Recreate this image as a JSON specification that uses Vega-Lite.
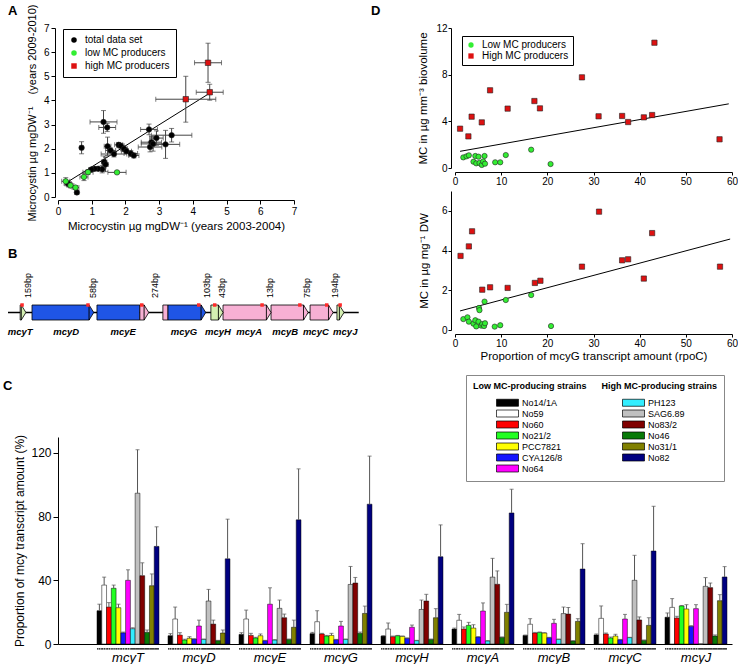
{
  "$schema": "https://vega.github.io/schema/vega-lite/v6.json",
  "background": "white",
  "padding": {"left": 3, "top": 4, "right": 0, "bottom": 0},
  "config": {
    "font": "Liberation Sans",
    "view": {"stroke": null},
    "axis": {"domainColor": "black", "tickColor": "black", "labelColor": "black", "titleColor": "black", "titleFontWeight": "normal", "grid": false, "labelFlush": false, "labelOverlap": false, "labelFont": "Liberation Sans", "titleFont": "Liberation Sans"},
    "title": {"fontSize": 13, "fontWeight": "bold", "anchor": "start", "frame": "group", "font": "Liberation Sans", "color": "black"},
    "legend": {"labelFont": "Liberation Sans", "titleFont": "Liberation Sans", "labelColor": "black", "titleColor": "black"}
  },
  "datasets": {
    "adata": [
      {"x":0.56,"y":0.19,"xlo":0.51,"xhi":0.61,"ylo":0.11,"yhi":0.27,"grp":"total data set"},
      {"x":0.3,"y":0.55,"xlo":0.2,"xhi":0.4,"ylo":0.45,"yhi":0.65,"grp":"total data set"},
      {"x":0.7,"y":2.04,"xlo":0.65,"xhi":0.75,"ylo":1.79,"yhi":2.29,"grp":"total data set"},
      {"x":1.35,"y":3.11,"xlo":0.95,"xhi":1.75,"ylo":2.64,"yhi":3.58,"grp":"total data set"},
      {"x":1.46,"y":2.88,"xlo":1.21,"xhi":1.71,"ylo":2.71,"yhi":3.05,"grp":"total data set"},
      {"x":1.47,"y":2.1,"xlo":1.37,"xhi":1.57,"ylo":1.72,"yhi":2.48,"grp":"total data set"},
      {"x":1.56,"y":1.93,"xlo":1.41,"xhi":1.71,"ylo":1.83,"yhi":2.03,"grp":"total data set"},
      {"x":1.66,"y":1.78,"xlo":1.28,"xhi":2.04,"ylo":1.66,"yhi":1.9,"grp":"total data set"},
      {"x":1.8,"y":2.16,"xlo":1.68,"xhi":1.92,"ylo":2.06,"yhi":2.26,"grp":"total data set"},
      {"x":1.86,"y":2.12,"xlo":1.76,"xhi":1.96,"ylo":2.02,"yhi":2.22,"grp":"total data set"},
      {"x":1.96,"y":2.0,"xlo":1.86,"xhi":2.06,"ylo":1.88,"yhi":2.12,"grp":"total data set"},
      {"x":2.03,"y":1.9,"xlo":1.88,"xhi":2.18,"ylo":1.8,"yhi":2.0,"grp":"total data set"},
      {"x":2.16,"y":1.8,"xlo":1.96,"xhi":2.36,"ylo":1.68,"yhi":1.92,"grp":"total data set"},
      {"x":2.25,"y":1.72,"xlo":2.1,"xhi":2.4,"ylo":1.62,"yhi":1.82,"grp":"total data set"},
      {"x":1.37,"y":1.45,"xlo":1.29,"xhi":1.45,"ylo":1.2,"yhi":1.7,"grp":"total data set"},
      {"x":1.41,"y":1.35,"xlo":1.33,"xhi":1.49,"ylo":1.05,"yhi":1.65,"grp":"total data set"},
      {"x":1.31,"y":1.15,"xlo":1.21,"xhi":1.41,"ylo":1.0,"yhi":1.3,"grp":"total data set"},
      {"x":1.19,"y":1.17,"xlo":1.09,"xhi":1.29,"ylo":1.12,"yhi":1.22,"grp":"total data set"},
      {"x":1.09,"y":1.17,"xlo":0.99,"xhi":1.19,"ylo":1.12,"yhi":1.22,"grp":"total data set"},
      {"x":0.99,"y":1.14,"xlo":0.91,"xhi":1.07,"ylo":1.09,"yhi":1.19,"grp":"total data set"},
      {"x":2.7,"y":2.8,"xlo":2.45,"xhi":2.95,"ylo":2.58,"yhi":3.02,"grp":"total data set"},
      {"x":2.73,"y":2.07,"xlo":2.38,"xhi":3.08,"ylo":1.87,"yhi":2.27,"grp":"total data set"},
      {"x":2.77,"y":2.27,"xlo":2.47,"xhi":3.07,"ylo":2.02,"yhi":2.52,"grp":"total data set"},
      {"x":2.82,"y":2.2,"xlo":2.47,"xhi":3.17,"ylo":1.9,"yhi":2.5,"grp":"total data set"},
      {"x":2.92,"y":2.44,"xlo":2.72,"xhi":3.12,"ylo":2.14,"yhi":2.74,"grp":"total data set"},
      {"x":3.19,"y":2.18,"xlo":2.77,"xhi":3.61,"ylo":1.6,"yhi":2.76,"grp":"total data set"},
      {"x":3.37,"y":2.56,"xlo":2.77,"xhi":3.97,"ylo":2.28,"yhi":2.84,"grp":"total data set"},
      {"x":0.23,"y":0.65,"xlo":0.11,"xhi":0.35,"ylo":0.5,"yhi":0.8,"grp":"low MC producers"},
      {"x":0.37,"y":0.48,"xlo":0.27,"xhi":0.47,"ylo":0.38,"yhi":0.58,"grp":"low MC producers"},
      {"x":0.52,"y":0.39,"xlo":0.42,"xhi":0.62,"ylo":0.31,"yhi":0.47,"grp":"low MC producers"},
      {"x":0.77,"y":0.83,"xlo":0.65,"xhi":0.89,"ylo":0.68,"yhi":0.98,"grp":"low MC producers"},
      {"x":0.89,"y":1.03,"xlo":0.74,"xhi":1.04,"ylo":0.93,"yhi":1.13,"grp":"low MC producers"},
      {"x":1.75,"y":1.02,"xlo":1.48,"xhi":2.02,"ylo":0.97,"yhi":1.07,"grp":"low MC producers"},
      {"x":3.79,"y":4.05,"xlo":2.9,"xhi":4.68,"ylo":3.1,"yhi":5.0,"grp":"high MC producers"},
      {"x":4.45,"y":5.56,"xlo":4.05,"xhi":4.85,"ylo":4.75,"yhi":6.37,"grp":"high MC producers"},
      {"x":4.5,"y":4.34,"xlo":4.1,"xhi":4.9,"ylo":4.01,"yhi":4.67,"grp":"high MC producers"}
    ],
    "aline": [{"x":0.2,"y":0.55},{"x":4.5,"y":4.3}],
    "bbone": [{"start":0,"end":54.8}],
    "bgenes": [
      {"gene":"mcyT","type":"other","start":1.9,"bend":2.1,"end":2.8,"head":1},
      {"gene":"mcyD","type":"PKS","start":3.75,"bend":12.7,"end":13.4,"head":1},
      {"gene":"mcyE","type":"PKS","start":13.9,"bend":20.6,"end":20.6,"head":0},
      {"gene":"mcyE","type":"NRPS","start":20.6,"bend":21.3,"end":22.0,"head":1},
      {"gene":"mcyG","type":"NRPS","start":24.2,"bend":25.0,"end":25.0,"head":0},
      {"gene":"mcyG","type":"PKS","start":25.0,"bend":30.2,"end":30.9,"head":1},
      {"gene":"mcyH","type":"other","start":31.7,"bend":32.9,"end":33.6,"head":1},
      {"gene":"mcyA","type":"NRPS","start":33.6,"bend":40.4,"end":41.1,"head":1},
      {"gene":"mcyB","type":"NRPS","start":41.1,"bend":46.2,"end":46.9,"head":1},
      {"gene":"mcyC","type":"NRPS","start":47.2,"bend":50.1,"end":50.8,"head":1},
      {"gene":"mcyJ","type":"other","start":51.4,"bend":51.8,"end":52.5,"head":1}
    ],
    "bmark": [{"pos":2.2},{"pos":12.5},{"pos":20.9},{"pos":29.8},{"pos":32.3},{"pos":39.7},{"pos":45.6},{"pos":49.8},{"pos":51.9}],
    "bbp": [
      {"pos":3.1,"label":"159bp"},{"pos":13.3,"label":"58bp"},{"pos":23.0,"label":"274bp"},{"pos":31.1,"label":"103bp"},
      {"pos":33.4,"label":"43bp"},{"pos":40.9,"label":"13bp"},{"pos":46.7,"label":"75bp"},{"pos":51.1,"label":"194bp"}
    ],
    "bname": [
      {"pos":1.9,"gene":"mcyT"},{"pos":9.1,"gene":"mcyD"},{"pos":18.0,"gene":"mcyE"},{"pos":27.5,"gene":"mcyG"},{"pos":32.8,"gene":"mcyH"},
      {"pos":37.7,"gene":"mcyA"},{"pos":43.3,"gene":"mcyB"},{"pos":48.1,"gene":"mcyC"},{"pos":52.7,"gene":"mcyJ"}
    ],
    "d1": [
      {"x":1.8,"y":0.91,"grp":"Low MC producers"},{"x":2.5,"y":1.0,"grp":"Low MC producers"},{"x":3.0,"y":1.09,"grp":"Low MC producers"},
      {"x":4.0,"y":0.54,"grp":"Low MC producers"},{"x":4.4,"y":1.03,"grp":"Low MC producers"},{"x":4.6,"y":0.4,"grp":"Low MC producers"},
      {"x":5.1,"y":0.97,"grp":"Low MC producers"},{"x":5.3,"y":0.43,"grp":"Low MC producers"},{"x":5.8,"y":0.26,"grp":"Low MC producers"},
      {"x":6.1,"y":0.57,"grp":"Low MC producers"},{"x":6.4,"y":1.03,"grp":"Low MC producers"},{"x":6.5,"y":0.37,"grp":"Low MC producers"},
      {"x":8.7,"y":0.49,"grp":"Low MC producers"},{"x":9.8,"y":0.49,"grp":"Low MC producers"},{"x":11.0,"y":1.11,"grp":"Low MC producers"},
      {"x":16.5,"y":1.57,"grp":"Low MC producers"},{"x":20.7,"y":0.34,"grp":"Low MC producers"},
      {"x":1.1,"y":3.37,"grp":"High MC producers"},{"x":2.9,"y":2.71,"grp":"High MC producers"},{"x":3.6,"y":4.4,"grp":"High MC producers"},
      {"x":5.8,"y":3.91,"grp":"High MC producers"},{"x":7.6,"y":6.66,"grp":"High MC producers"},{"x":11.4,"y":5.09,"grp":"High MC producers"},
      {"x":17.2,"y":5.74,"grp":"High MC producers"},{"x":18.4,"y":5.11,"grp":"High MC producers"},{"x":27.5,"y":7.77,"grp":"High MC producers"},
      {"x":31.1,"y":4.43,"grp":"High MC producers"},{"x":36.2,"y":4.46,"grp":"High MC producers"},{"x":37.5,"y":3.94,"grp":"High MC producers"},
      {"x":40.9,"y":4.34,"grp":"High MC producers"},{"x":42.7,"y":4.54,"grp":"High MC producers"},{"x":43.2,"y":10.74,"grp":"High MC producers"},
      {"x":57.3,"y":2.46,"grp":"High MC producers"}
    ],
    "d1line": [{"x":1.1,"y":1.43},{"x":59.3,"y":5.5}],
    "d2": [
      {"x":1.8,"y":0.55,"grp":"Low MC producers"},{"x":2.7,"y":0.64,"grp":"Low MC producers"},{"x":3.0,"y":0.42,"grp":"Low MC producers"},
      {"x":4.0,"y":0.32,"grp":"Low MC producers"},{"x":4.4,"y":0.49,"grp":"Low MC producers"},{"x":4.6,"y":0.18,"grp":"Low MC producers"},
      {"x":5.1,"y":0.42,"grp":"Low MC producers"},{"x":5.2,"y":1.11,"grp":"Low MC producers"},{"x":5.3,"y":1.0,"grp":"Low MC producers"},
      {"x":5.7,"y":0.22,"grp":"Low MC producers"},{"x":5.9,"y":0.3,"grp":"Low MC producers"},{"x":6.3,"y":0.2,"grp":"Low MC producers"},
      {"x":6.4,"y":1.43,"grp":"Low MC producers"},{"x":6.5,"y":0.34,"grp":"Low MC producers"},{"x":8.6,"y":0.17,"grp":"Low MC producers"},
      {"x":9.8,"y":0.24,"grp":"Low MC producers"},{"x":11.0,"y":1.51,"grp":"Low MC producers"},{"x":16.5,"y":1.76,"grp":"Low MC producers"},
      {"x":20.8,"y":0.2,"grp":"Low MC producers"},
      {"x":1.2,"y":3.73,"grp":"High MC producers"},{"x":3.0,"y":4.21,"grp":"High MC producers"},{"x":3.7,"y":4.97,"grp":"High MC producers"},
      {"x":5.9,"y":2.03,"grp":"High MC producers"},{"x":7.6,"y":2.15,"grp":"High MC producers"},{"x":11.4,"y":2.12,"grp":"High MC producers"},
      {"x":17.3,"y":2.37,"grp":"High MC producers"},{"x":18.5,"y":2.48,"grp":"High MC producers"},{"x":27.5,"y":3.19,"grp":"High MC producers"},
      {"x":31.2,"y":5.96,"grp":"High MC producers"},{"x":36.2,"y":3.51,"grp":"High MC producers"},{"x":37.5,"y":3.56,"grp":"High MC producers"},
      {"x":40.9,"y":2.59,"grp":"High MC producers"},{"x":42.7,"y":4.88,"grp":"High MC producers"},{"x":57.4,"y":3.19,"grp":"High MC producers"}
    ],
    "d2line": [{"x":1.1,"y":0.96},{"x":59.6,"y":4.58}],
    "strains": [
      {"s":"No14/1A","grp":"low"},{"s":"No59","grp":"low"},{"s":"No60","grp":"low"},{"s":"No21/2","grp":"low"},{"s":"PCC7821","grp":"low"},
      {"s":"CYA126/8","grp":"low"},{"s":"No64","grp":"low"},{"s":"PH123","grp":"high"},{"s":"SAG6.89","grp":"high"},{"s":"No83/2","grp":"high"},
      {"s":"No46","grp":"high"},{"s":"No31/1","grp":"high"},{"s":"No82","grp":"high"}
    ],
    "cdata": [
      {"g":"mcyT","s":"No14/1A","v":20.9,"e":25},{"g":"mcyT","s":"No59","v":37,"e":42},{"g":"mcyT","s":"No60","v":23.2,"e":26},{"g":"mcyT","s":"No21/2","v":35,"e":37},{"g":"mcyT","s":"PCC7821","v":22.8,"e":25},{"g":"mcyT","s":"CYA126/8","v":7,"e":7.5},{"g":"mcyT","s":"No64","v":40,"e":46.6},{"g":"mcyT","s":"PH123","v":9.6,"e":10.2},{"g":"mcyT","s":"SAG6.89","v":94.7,"e":122},{"g":"mcyT","s":"No83/2","v":42.9,"e":51},{"g":"mcyT","s":"No46","v":7.3,"e":8.8},{"g":"mcyT","s":"No31/1","v":36.6,"e":44},{"g":"mcyT","s":"No82","v":61.3,"e":73.6},
      {"g":"mcyD","s":"No14/1A","v":5.2,"e":6.5},{"g":"mcyD","s":"No59","v":15.7,"e":23.2},{"g":"mcyD","s":"No60","v":5.6,"e":7.1},{"g":"mcyD","s":"No21/2","v":2.5,"e":3},{"g":"mcyD","s":"PCC7821","v":3.6,"e":4.6},{"g":"mcyD","s":"CYA126/8","v":3.1,"e":3.3},{"g":"mcyD","s":"No64","v":11.3,"e":15},{"g":"mcyD","s":"PH123","v":2.9,"e":3.1},{"g":"mcyD","s":"SAG6.89","v":27,"e":34.3},{"g":"mcyD","s":"No83/2","v":12.5,"e":15},{"g":"mcyD","s":"No46","v":2.1,"e":2.3},{"g":"mcyD","s":"No31/1","v":6.9,"e":8.8},{"g":"mcyD","s":"No82","v":53.5,"e":78.4},
      {"g":"mcyE","s":"No14/1A","v":6,"e":7.1},{"g":"mcyE","s":"No59","v":15.7,"e":21.3},{"g":"mcyE","s":"No60","v":5.4,"e":6.7},{"g":"mcyE","s":"No21/2","v":3.8,"e":4.2},{"g":"mcyE","s":"PCC7821","v":5.2,"e":6.3},{"g":"mcyE","s":"CYA126/8","v":2.1,"e":2.3},{"g":"mcyE","s":"No64","v":25,"e":35.3},{"g":"mcyE","s":"PH123","v":2.5,"e":2.7},{"g":"mcyE","s":"SAG6.89","v":22.4,"e":27.6},{"g":"mcyE","s":"No83/2","v":16.5,"e":18.8},{"g":"mcyE","s":"No46","v":2.9,"e":3.1},{"g":"mcyE","s":"No31/1","v":10.5,"e":15},{"g":"mcyE","s":"No82","v":78,"e":110},
      {"g":"mcyG","s":"No14/1A","v":6.5,"e":7.3},{"g":"mcyG","s":"No59","v":14,"e":20.9},{"g":"mcyG","s":"No60","v":6.3,"e":6.7},{"g":"mcyG","s":"No21/2","v":5,"e":5.4},{"g":"mcyG","s":"PCC7821","v":5.4,"e":6.7},{"g":"mcyG","s":"CYA126/8","v":2.7,"e":2.9},{"g":"mcyG","s":"No64","v":11.3,"e":14.2},{"g":"mcyG","s":"PH123","v":2.9,"e":3.1},{"g":"mcyG","s":"SAG6.89","v":37.4,"e":48.7},{"g":"mcyG","s":"No83/2","v":38.3,"e":41.8},{"g":"mcyG","s":"No46","v":6.7,"e":7.5},{"g":"mcyG","s":"No31/1","v":19.2,"e":23.8},{"g":"mcyG","s":"No82","v":87.8,"e":118},
      {"g":"mcyH","s":"No14/1A","v":5,"e":5.2},{"g":"mcyH","s":"No59","v":9.4,"e":13.2},{"g":"mcyH","s":"No60","v":4.6,"e":5},{"g":"mcyH","s":"No21/2","v":5.2,"e":5.4},{"g":"mcyH","s":"PCC7821","v":4.8,"e":5},{"g":"mcyH","s":"CYA126/8","v":3.6,"e":3.8},{"g":"mcyH","s":"No64","v":10.5,"e":11.9},{"g":"mcyH","s":"PH123","v":2.1,"e":2.3},{"g":"mcyH","s":"SAG6.89","v":21.7,"e":27.6},{"g":"mcyH","s":"No83/2","v":27,"e":31.2},{"g":"mcyH","s":"No46","v":2.9,"e":3.1},{"g":"mcyH","s":"No31/1","v":16.5,"e":22.2},{"g":"mcyH","s":"No82","v":54.8,"e":74.8},
      {"g":"mcyA","s":"No14/1A","v":9.4,"e":10},{"g":"mcyA","s":"No59","v":14.9,"e":18.6},{"g":"mcyA","s":"No60","v":9.4,"e":10.7},{"g":"mcyA","s":"No21/2","v":11.7,"e":13.6},{"g":"mcyA","s":"PCC7821","v":10,"e":12.1},{"g":"mcyA","s":"CYA126/8","v":4.4,"e":4.6},{"g":"mcyA","s":"No64","v":20.7,"e":25.8},{"g":"mcyA","s":"PH123","v":1.9,"e":2.1},{"g":"mcyA","s":"SAG6.89","v":42,"e":53.8},{"g":"mcyA","s":"No83/2","v":37.5,"e":45.9},{"g":"mcyA","s":"No46","v":4.2,"e":4.4},{"g":"mcyA","s":"No31/1","v":19.9,"e":24.9},{"g":"mcyA","s":"No82","v":82.3,"e":97.2},
      {"g":"mcyB","s":"No14/1A","v":5.4,"e":5.6},{"g":"mcyB","s":"No59","v":12.4,"e":15.9},{"g":"mcyB","s":"No60","v":6.9,"e":7.3},{"g":"mcyB","s":"No21/2","v":7.3,"e":7.5},{"g":"mcyB","s":"PCC7821","v":6.9,"e":7.1},{"g":"mcyB","s":"CYA126/8","v":4,"e":4.2},{"g":"mcyB","s":"No64","v":13,"e":15.5},{"g":"mcyB","s":"PH123","v":2.9,"e":3.1},{"g":"mcyB","s":"SAG6.89","v":19.1,"e":23.2},{"g":"mcyB","s":"No83/2","v":18.8,"e":23},{"g":"mcyB","s":"No46","v":1.9,"e":2.1},{"g":"mcyB","s":"No31/1","v":14.2,"e":15.9},{"g":"mcyB","s":"No82","v":47.1,"e":63},
      {"g":"mcyC","s":"No14/1A","v":5.7,"e":6.3},{"g":"mcyC","s":"No59","v":16.1,"e":23.9},{"g":"mcyC","s":"No60","v":6.3,"e":6.9},{"g":"mcyC","s":"No21/2","v":3.8,"e":4.4},{"g":"mcyC","s":"PCC7821","v":5,"e":6.1},{"g":"mcyC","s":"CYA126/8","v":2.7,"e":2.9},{"g":"mcyC","s":"No64","v":15.7,"e":18.6},{"g":"mcyC","s":"PH123","v":4,"e":4.2},{"g":"mcyC","s":"SAG6.89","v":40,"e":55.7},{"g":"mcyC","s":"No83/2","v":15.1,"e":17},{"g":"mcyC","s":"No46","v":2.3,"e":2.5},{"g":"mcyC","s":"No31/1","v":11.7,"e":16.5},{"g":"mcyC","s":"No82","v":58.4,"e":86.5},
      {"g":"mcyJ","s":"No14/1A","v":16.8,"e":19.5},{"g":"mcyJ","s":"No59","v":23,"e":28.5},{"g":"mcyJ","s":"No60","v":16.3,"e":17.4},{"g":"mcyJ","s":"No21/2","v":23.9,"e":24.2},{"g":"mcyJ","s":"PCC7821","v":22,"e":24.7},{"g":"mcyJ","s":"CYA126/8","v":11.1,"e":11.5},{"g":"mcyJ","s":"No64","v":22.2,"e":24.7},{"g":"mcyJ","s":"PH123","v":0,"e":0},{"g":"mcyJ","s":"SAG6.89","v":36.2,"e":41.7},{"g":"mcyJ","s":"No83/2","v":35.4,"e":38.3},{"g":"mcyJ","s":"No46","v":5,"e":5.7},{"g":"mcyJ","s":"No31/1","v":27.2,"e":31},{"g":"mcyJ","s":"No82","v":42.1,"e":48.6}
    ]
  },
  "spacing": 12,
  "resolve": {"scale": {"fill": "independent", "shape": "independent", "strokeDash": "independent"}},
  "vconcat": [
    {
      "spacing": 11,
      "resolve": {"scale": {"fill": "independent", "shape": "independent"}},
      "hconcat": [
        {
          "bounds": "flush",
          "spacing": 66,
          "resolve": {"scale": {"fill": "independent", "shape": "independent"}},
          "vconcat": [
            {
              "width": 236, "height": 169,
              "title": {"text": "A", "dx": -50, "offset": -14},
              "layer": [
                {
                  "data": {"name": "aline"},
                  "mark": {"type": "line", "color": "black", "strokeWidth": 1},
                  "encoding": {
                    "x": {"field": "x", "type": "quantitative", "scale": {"domain": [0, 7], "nice": false},
                          "axis": {"values": [0,1,2,3,4,5,6,7], "offset": 3, "tickSize": 4, "labelFontSize": 10, "titleFontSize": 11.5, "titlePadding": 4}, "title": "Microcystin µg mgDW⁻¹ (years 2003-2004)"},
                    "y": {"field": "y", "type": "quantitative", "scale": {"domain": [0, 7], "nice": false},
                          "axis": {"values": [0,1,2,3,4,5,6,7], "offset": 3, "tickSize": 4, "labelFontSize": 10, "titleFontSize": 11, "titlePadding": 6}, "title": "Microcystin µg mgDW⁻¹\u00a0\u00a0\u00a0\u00a0(years 2009-2010)"}
                  }
                },
                {
                  "data": {"name": "adata"},
                  "mark": {"type": "errorbar", "ticks": {"size": 5}, "color": "#444"},
                  "encoding": {
                    "x": {"field": "xlo", "type": "quantitative", "axis": {"values": [0,1,2,3,4,5,6,7], "offset": 3, "tickSize": 4, "labelFontSize": 10, "titleFontSize": 11.5, "titlePadding": 4}, "title": "Microcystin µg mgDW⁻¹ (years 2003-2004)"},
                    "x2": {"field": "xhi"},
                    "y": {"field": "y", "type": "quantitative", "axis": {"values": [0,1,2,3,4,5,6,7], "offset": 3, "tickSize": 4, "labelFontSize": 10, "titleFontSize": 11, "titlePadding": 6}, "title": "Microcystin µg mgDW⁻¹\u00a0\u00a0\u00a0\u00a0(years 2009-2010)"}
                  }
                },
                {
                  "data": {"name": "adata"},
                  "mark": {"type": "errorbar", "ticks": {"size": 5}, "color": "#444"},
                  "encoding": {
                    "y": {"field": "ylo", "type": "quantitative", "axis": {"values": [0,1,2,3,4,5,6,7], "offset": 3, "tickSize": 4, "labelFontSize": 10, "titleFontSize": 11, "titlePadding": 6}, "title": "Microcystin µg mgDW⁻¹\u00a0\u00a0\u00a0\u00a0(years 2009-2010)"},
                    "y2": {"field": "yhi"},
                    "x": {"field": "x", "type": "quantitative", "axis": {"values": [0,1,2,3,4,5,6,7], "offset": 3, "tickSize": 4, "labelFontSize": 10, "titleFontSize": 11.5, "titlePadding": 4}, "title": "Microcystin µg mgDW⁻¹ (years 2003-2004)"}
                  }
                },
                {
                  "data": {"name": "adata"},
                  "mark": {"type": "point", "filled": true, "size": 30, "stroke": "#222", "strokeWidth": 0.6, "opacity": 1},
                  "encoding": {
                    "x": {"field": "x", "type": "quantitative", "axis": {"values": [0,1,2,3,4,5,6,7], "offset": 3, "tickSize": 4, "labelFontSize": 10, "titleFontSize": 11.5, "titlePadding": 4}, "title": "Microcystin µg mgDW⁻¹ (years 2003-2004)"},
                    "y": {"field": "y", "type": "quantitative", "axis": {"values": [0,1,2,3,4,5,6,7], "offset": 3, "tickSize": 4, "labelFontSize": 10, "titleFontSize": 11, "titlePadding": 6}, "title": "Microcystin µg mgDW⁻¹\u00a0\u00a0\u00a0\u00a0(years 2009-2010)"},
                    "fill": {"field": "grp", "type": "nominal", "scale": {"domain": ["total data set", "low MC producers", "high MC producers"], "range": ["#000000", "#33ee33", "#dd1111"]},
                             "legend": {"title": null, "orient": "none", "legendX": 5, "legendY": 1, "strokeColor": "black", "padding": 6, "labelFontSize": 10, "symbolSize": 30, "rowPadding": 3, "labelOffset": 6, "symbolStrokeColor": "#222", "symbolStrokeWidth": 0.6}},
                    "shape": {"field": "grp", "type": "nominal", "scale": {"domain": ["total data set", "low MC producers", "high MC producers"], "range": ["circle", "circle", "square"]},
                             "legend": {"title": null, "orient": "none", "legendX": 5, "legendY": 1, "strokeColor": "black", "padding": 6, "labelFontSize": 10, "symbolSize": 30, "rowPadding": 3, "labelOffset": 6, "symbolStrokeColor": "#222", "symbolStrokeWidth": 0.6}}
                  }
                }
              ]
            },
            {
              "width": 302, "height": 78,
              "title": {"text": "B", "dx": -50, "offset": 2},
              "layer": [
                {
                  "data": {"name": "bbone"},
                  "mark": {"type": "rule", "color": "black", "strokeWidth": 1.5},
                  "encoding": {
                    "x": {"field": "start", "type": "quantitative", "scale": {"domain": [7.8125, 55], "nice": false, "zero": false}, "axis": null},
                    "x2": {"field": "end"},
                    "y": {"datum": 28.5, "type": "quantitative", "scale": {"domain": [0, 78], "nice": false, "zero": false}, "axis": null}
                  }
                },
                {
                  "data": {"name": "bgenes"},
                  "mark": {"type": "bar", "stroke": "black", "strokeWidth": 0.8},
                  "encoding": {
                    "x": {"field": "start", "type": "quantitative"},
                    "x2": {"field": "bend"},
                    "y": {"datum": 21, "type": "quantitative"},
                    "y2": {"datum": 36},
                    "fill": {"field": "type", "type": "nominal", "scale": {"domain": ["PKS", "NRPS", "other"], "range": ["#1f55e6", "#f7b0d4", "#d4efb2"]}, "legend": null}
                  }
                },
                {
                  "data": {"name": "bgenes"},
                  "transform": [{"filter": "datum.head == 1"}],
                  "mark": {"type": "point", "shape": "M-0.62,-1L0,0L-0.62,1Z", "size": 225, "filled": true, "stroke": "black", "strokeWidth": 0.8, "opacity": 1},
                  "encoding": {
                    "x": {"field": "end", "type": "quantitative"},
                    "y": {"datum": 28.5, "type": "quantitative"},
                    "fill": {"field": "type", "type": "nominal", "legend": null}
                  }
                },
                {
                  "data": {"name": "bmark"},
                  "mark": {"type": "square", "color": "#ff2a2a", "size": 12, "opacity": 1},
                  "encoding": {"x": {"field": "pos", "type": "quantitative"}, "y": {"datum": 36, "type": "quantitative"}}
                },
                {
                  "data": {"name": "bbp"},
                  "mark": {"type": "text", "angle": 270, "align": "left", "baseline": "middle", "fontSize": 9, "color": "black"},
                  "encoding": {"x": {"field": "pos", "type": "quantitative"}, "y": {"datum": 43, "type": "quantitative"}, "text": {"field": "label"}}
                },
                {
                  "data": {"name": "bname"},
                  "mark": {"type": "text", "fontStyle": "italic", "fontWeight": "bold", "fontSize": 9.5, "baseline": "alphabetic", "color": "black"},
                  "encoding": {"x": {"field": "pos", "type": "quantitative"}, "y": {"datum": 6, "type": "quantitative"}, "text": {"field": "gene"}}
                }
              ]
            }
          ]
        },
        {
          "bounds": "flush",
          "spacing": 23,
          "resolve": {"scale": {"fill": "independent", "shape": "independent"}},
          "vconcat": [
            {
              "width": 277, "height": 140,
              "title": {"text": "D", "dx": -84, "offset": 5},
              "layer": [
                {
                  "data": {"name": "d1line"},
                  "mark": {"type": "line", "color": "black", "strokeWidth": 1},
                  "encoding": {
                    "x": {"field": "x", "type": "quantitative", "scale": {"domain": [0, 60], "nice": false}, "axis": {"values": [0,10,20,30,40,50,60], "offset": 4, "tickSize": 3, "labelPadding": 1, "labelFontSize": 10, "title": null}},
                    "y": {"field": "y", "type": "quantitative", "scale": {"domain": [0, 12], "nice": false}, "axis": {"values": [0,2,4,6,8,10,12], "offset": 4, "tickSize": 3, "labelPadding": 1, "labelFontSize": 10, "titleFontSize": 11.5, "titlePadding": 7, "title": "MC in µg mm⁻³ biovolume"}}
                  }
                },
                {
                  "data": {"name": "d1"},
                  "mark": {"type": "point", "filled": true, "size": 28, "stroke": "#222", "strokeWidth": 0.6, "opacity": 1},
                  "encoding": {
                    "x": {"field": "x", "type": "quantitative"},
                    "y": {"field": "y", "type": "quantitative"},
                    "fill": {"field": "grp", "type": "nominal", "scale": {"domain": ["Low MC producers", "High MC producers"], "range": ["#33ee33", "#dd1111"]},
                             "legend": {"title": null, "orient": "none", "legendX": 7, "legendY": 8, "strokeColor": "black", "padding": 4, "labelFontSize": 10, "symbolSize": 28, "rowPadding": 1, "labelOffset": 6, "symbolStrokeColor": "#222", "symbolStrokeWidth": 0.6}},
                    "shape": {"field": "grp", "type": "nominal", "scale": {"domain": ["Low MC producers", "High MC producers"], "range": ["circle", "square"]},
                             "legend": {"title": null, "orient": "none", "legendX": 7, "legendY": 8, "strokeColor": "black", "padding": 4, "labelFontSize": 10, "symbolSize": 28, "rowPadding": 1, "labelOffset": 6, "symbolStrokeColor": "#222", "symbolStrokeWidth": 0.6}}
                  }
                }
              ]
            },
            {
              "width": 277, "height": 139,
              "layer": [
                {
                  "data": {"name": "d2line"},
                  "mark": {"type": "line", "color": "black", "strokeWidth": 1},
                  "encoding": {
                    "x": {"field": "x", "type": "quantitative", "scale": {"domain": [0, 60], "nice": false}, "axis": {"values": [0,10,20,30,40,50,60], "offset": 4, "tickSize": 3, "labelPadding": 1, "labelFontSize": 10, "titleFontSize": 11.5, "titlePadding": 2, "title": "Proportion of mcyG transcript amount (rpoC)"}},
                    "y": {"field": "y", "type": "quantitative", "scale": {"domain": [0, 7], "nice": false}, "axis": {"values": [0,1,2,3,4,5,6,7], "offset": 4, "tickSize": 3, "labelPadding": 1, "labelFontSize": 10, "titleFontSize": 11.5, "titlePadding": 12, "title": "MC in µg mg⁻¹ DW"}}
                  }
                },
                {
                  "data": {"name": "d2"},
                  "mark": {"type": "point", "filled": true, "size": 28, "stroke": "#222", "strokeWidth": 0.6, "opacity": 1},
                  "encoding": {
                    "x": {"field": "x", "type": "quantitative"},
                    "y": {"field": "y", "type": "quantitative"},
                    "fill": {"field": "grp", "type": "nominal", "scale": {"domain": ["Low MC producers", "High MC producers"], "range": ["#33ee33", "#dd1111"]}, "legend": null},
                    "shape": {"field": "grp", "type": "nominal", "scale": {"domain": ["Low MC producers", "High MC producers"], "range": ["circle", "square"]}, "legend": null}
                  }
                }
              ]
            }
          ]
        }
      ]
    },
    {
      "width": 674, "height": 207,
      "title": {"text": "C", "dx": -55, "offset": -18},
      "data": {"name": "cdata"},
      "transform": [{"lookup": "s", "from": {"data": {"name": "strains"}, "key": "s", "fields": ["grp"]}}],
      "encoding": {
        "x": {"field": "g", "type": "nominal", "sort": ["mcyT","mcyD","mcyE","mcyG","mcyH","mcyA","mcyB","mcyC","mcyJ"],
              "scale": {"paddingInner": 0.127, "paddingOuter": 0.31, "align": 0.886},
              "axis": {"title": null, "ticks": false, "labelAngle": 0, "labelFontSize": 13, "labelFontStyle": "italic", "labelPadding": 7}},
        "xOffset": {"field": "s", "type": "nominal",
              "scale": {"domain": ["No14/1A","No59","No60","No21/2","PCC7821","CYA126/8","No64","PH123","SAG6.89","No83/2","No46","No31/1","No82"], "paddingInner": 0, "paddingOuter": 0}}
      },
      "layer": [
        {
          "mark": {"type": "bar", "stroke": "black", "strokeWidth": 0.5},
          "encoding": {
            "y": {"field": "v", "type": "quantitative", "scale": {"domain": [0, 130], "nice": false},
                  "axis": {"values": [0,20,40,60,80,100,120], "tickSize": 5, "labelFontSize": 12, "titleFontSize": 12, "titlePadding": 4, "title": "Proportion of mcy transcript amount (%)"}},
            "fill": {"field": "s", "type": "nominal",
                     "scale": {"domain": ["No14/1A","No59","No60","No21/2","PCC7821","CYA126/8","No64","PH123","SAG6.89","No83/2","No46","No31/1","No82"],
                               "range": ["#000000","#ffffff","#ff0000","#22ff22","#ffff00","#1414ff","#ff00ff","#33eeff","#c0c0c0","#800000","#087a08","#808000","#000080"]},
                     "legend": {"title": "Low MC-producing strains\u00a0\u00a0\u00a0\u00a0\u00a0\u00a0High MC-producing strains", "orient": "none", "legendX": 408, "legendY": -62,
                                "columns": 2, "direction": "vertical", "strokeColor": "#888", "padding": 7, "titleFontSize": 9, "titleFontWeight": "bold", "titlePadding": 6, "titleLimit": 400,
                                "labelFontSize": 9, "symbolType": "M-1,-0.7H3.4V0.7H-1Z", "symbolSize": 100, "symbolStrokeColor": "black", "symbolStrokeWidth": 0.7,
                                "symbolOffset": 23, "labelOffset": 15, "rowPadding": 0, "columnPadding": 36}}
          }
        },
        {
          "mark": {"type": "rule", "color": "#555", "strokeWidth": 1},
          "encoding": {"y": {"field": "v", "type": "quantitative"}, "y2": {"field": "e"}}
        },
        {
          "mark": {"type": "tick", "color": "#555", "thickness": 1, "size": 4},
          "encoding": {"y": {"field": "e", "type": "quantitative"}}
        },
        {
          "mark": {"type": "bar", "fill": "transparent", "stroke": "black", "strokeWidth": 1.2},
          "encoding": {
            "y": {"datum": -3, "type": "quantitative"},
            "y2": {"datum": -3},
            "strokeDash": {"field": "grp", "type": "nominal", "scale": {"domain": ["low", "high"], "range": [[1, 1], [1, 0]]}, "legend": null}
          }
        }
      ]
    }
  ]
}
